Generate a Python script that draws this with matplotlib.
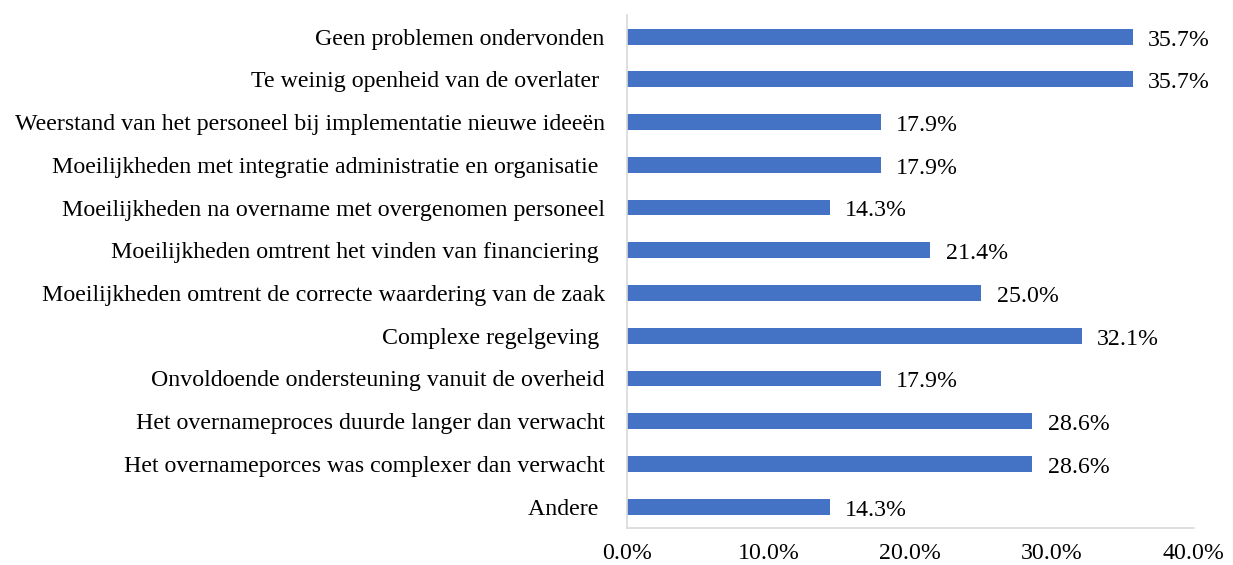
import matplotlib
matplotlib.use("Agg")
import matplotlib.pyplot as plt
from matplotlib.ticker import FuncFormatter

categories = [
    "Geen problemen ondervonden",
    "Te weinig openheid van de overlater ",
    "Weerstand van het personeel bij implementatie nieuwe ideeën",
    "Moeilijkheden met integratie administratie en organisatie ",
    "Moeilijkheden na overname met overgenomen personeel",
    "Moeilijkheden omtrent het vinden van financiering ",
    "Moeilijkheden omtrent de correcte waardering van de zaak",
    "Complexe regelgeving ",
    "Onvoldoende ondersteuning vanuit de overheid",
    "Het overnameproces duurde langer dan verwacht",
    "Het overnameporces was complexer dan verwacht",
    "Andere ",
]
values = [35.7, 35.7, 17.9, 17.9, 14.3, 21.4, 25.0, 32.1, 17.9, 28.6, 28.6, 14.3]
xticks = [0, 10, 20, 30, 40]

plt.rcParams['font.family'] = ['Liberation Serif', 'DejaVu Serif']
FS = 17.2

fig = plt.figure(figsize=(12.33, 5.65), dpi=100)
ax = fig.add_axes([0.5085, 0.0655, 0.4595, 0.9075])

n = len(categories)
ypos = list(range(n))[::-1]
ax.barh(ypos, values, height=0.37, color="#4472C4")
for y, v in zip(ypos, values):
    ax.text(v + 1.1, y - 0.08, f"{v:.1f}%", va="center", ha="left", fontsize=FS, color="#000000")

ax.set_xlim(0, 40)
ax.set_ylim(-0.5, n - 0.5)
ax.set_yticks(ypos)
ax.set_yticklabels(categories, fontsize=FS)
ax.set_xticks(xticks)
ax.xaxis.set_major_formatter(FuncFormatter(lambda x, p: f"{x:.1f}%"))
ax.tick_params(axis="x", labelsize=FS, length=0, pad=11)
ax.tick_params(axis="y", length=0, pad=16)

for s in ["top", "right"]:
    ax.spines[s].set_visible(False)
ax.spines["left"].set_color("#D9D9D9")
ax.spines["bottom"].set_color("#D9D9D9")
ax.spines["left"].set_linewidth(1.2)
ax.spines["bottom"].set_linewidth(1.2)

fig.savefig("out.png", dpi=100)
